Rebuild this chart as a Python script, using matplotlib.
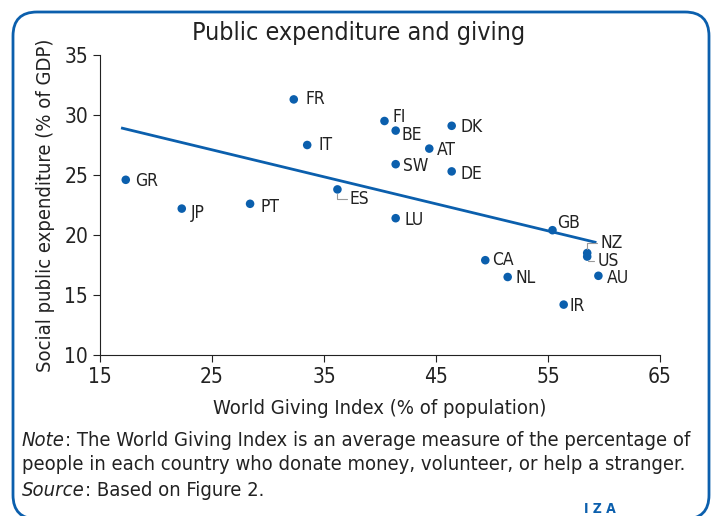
import numpy as np
import matplotlib.pyplot as plt
from matplotlib.patches import FancyBboxPatch
from matplotlib.transforms import IdentityTransform

plt.rcParams['font.family'] = ['DejaVu Sans']
plt.rcParams['font.stretch'] = 'condensed'

countries = ['FR', 'FI', 'BE', 'DK', 'IT', 'AT', 'SW', 'DE', 'GR', 'ES',
             'JP', 'PT', 'LU', 'GB', 'NZ', 'US', 'CA', 'NL', 'AU', 'IR']
giving = [32.3, 40.4, 41.4, 46.4, 33.5, 44.4, 41.4, 46.4, 17.3, 36.2,
          22.3, 28.4, 41.4, 55.4, 58.5, 58.5, 49.4, 51.4, 59.5, 56.4]
social = [31.3, 29.5, 28.7, 29.1, 27.5, 27.2, 25.9, 25.3, 24.6, 23.8,
          22.2, 22.6, 21.4, 20.4, 18.5, 18.2, 17.9, 16.5, 16.6, 14.2]

# trend line
trend_x = [17.0, 59.2]
trend_y = [28.9, 19.4]

blue = '#0b5fad'
dark = '#222222'

# label offsets in pixels (dx, dy)
offsets = {'FR': (12, 0), 'FI': (8, 4), 'BE': (6, -4), 'DK': (9, -1),
           'IT': (11, 0), 'AT': (8, -1), 'SW': (7, -2), 'DE': (9, -3),
           'GR': (9, -1), 'ES': (12, -10), 'JP': (9, -4), 'PT': (10, -3),
           'LU': (9, -2), 'GB': (5, 7), 'NZ': (13, 10), 'US': (10, -4),
           'CA': (7, 0), 'NL': (8, -1), 'AU': (8, -2), 'IR': (6, -1)}
leaders = {'ES', 'NZ', 'US'}

fig = plt.figure(figsize=(7.18, 5.16), dpi=100)
ax = fig.add_axes([100/718, 1-355/516, 560/718, 300/516])

box = FancyBboxPatch((13, -3), 696, 507,
                     boxstyle='round,pad=0,rounding_size=24',
                     transform=IdentityTransform(), fc='none', ec=blue, lw=2,
                     clip_on=False)
fig.patches.append(box)

ax.plot(trend_x, trend_y, color=blue, lw=2, zorder=2)
ax.scatter(giving, social, s=38, color=blue, zorder=3, edgecolors='none')

for c, x, y in zip(countries, giving, social):
    dx, dy = offsets[c]
    props = None
    if c in leaders:
        props = dict(arrowstyle='-', color='#999999', lw=0.8, shrinkA=0,
                     shrinkB=3, connectionstyle='angle,angleA=0,angleB=90,rad=0')
    ax.annotate(c, (x, y), xytext=(dx, dy), textcoords='offset pixels',
                fontsize=12.5, color=dark, va='center', ha='left',
                arrowprops=props)

ax.set_xlim(15, 65)
ax.set_ylim(10, 35)
ax.set_xticks([15, 25, 35, 45, 55, 65])
ax.set_yticks([10, 15, 20, 25, 30, 35])
for s in ['top', 'right']:
    ax.spines[s].set_visible(False)
ax.spines['left'].set_color(dark)
ax.spines['bottom'].set_color(dark)
ax.tick_params(labelsize=15, length=5, color=dark, labelcolor=dark)
ax.set_xlabel('World Giving Index (% of population)', fontsize=14.5,
              color=dark, labelpad=9)
ax.set_ylabel('Social public expenditure (% of GDP)', fontsize=14.5,
              color=dark, labelpad=7)

fig.text(0.5, 1-33/516, 'Public expenditure and giving', ha='center',
         va='center', fontsize=18, color=dark)

fs = 14.5
note = fig.text(22/718, 1-440/516, 'Note', fontsize=fs, va='center',
                color=dark, style='italic')
ax.annotate(': The World Giving Index is an average measure of the percentage of',
            xy=(1, 0.5), xycoords=note, va='center', fontsize=fs, color=dark)
fig.text(22/718, 1-465/516,
         'people in each country who donate money, volunteer, or help a stranger.',
         fontsize=fs, va='center', color=dark)
src = fig.text(22/718, 1-490/516, 'Source', fontsize=fs, va='center',
               color=dark, style='italic')
ax.annotate(': Based on Figure 2.', xy=(1, 0.5), xycoords=src, va='center',
            fontsize=fs, color=dark)
fig.text(600/718, 1-509/516, 'I Z A', fontsize=10, ha='center', va='center',
         color=blue, fontweight='bold')

fig.savefig('out.png', dpi=100)
